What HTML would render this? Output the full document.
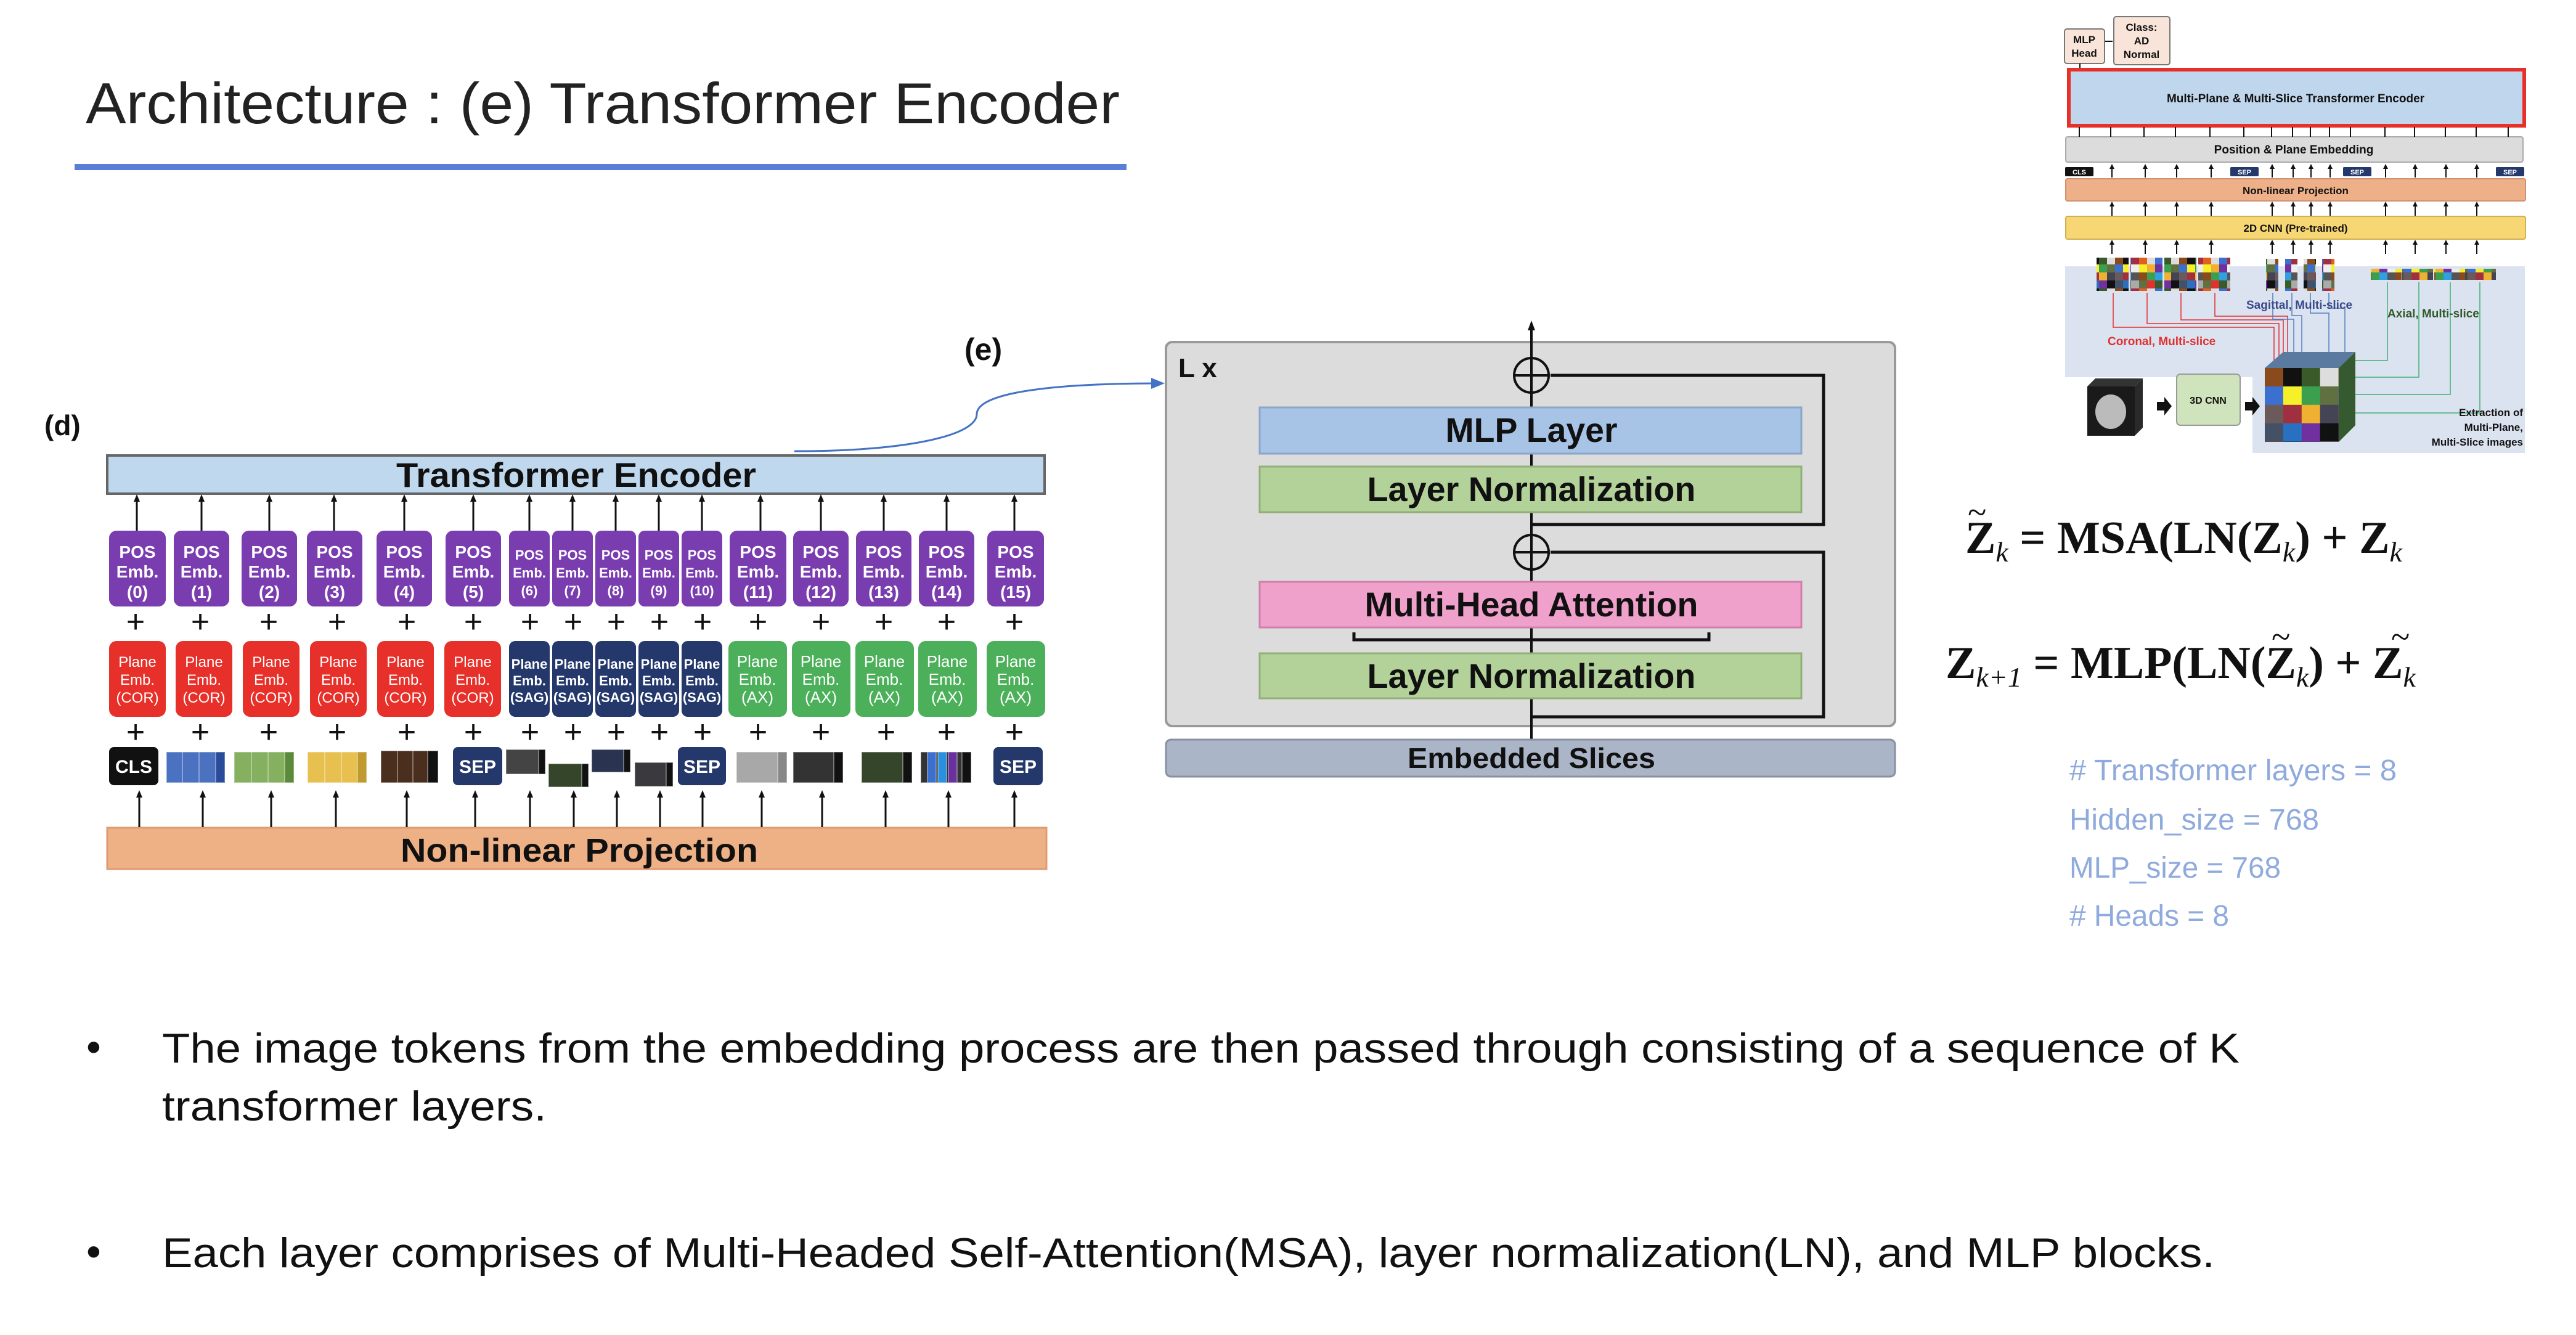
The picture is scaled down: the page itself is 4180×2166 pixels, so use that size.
<!DOCTYPE html>
<html><head><meta charset="utf-8"><style>html,body{margin:0;padding:0;background:#fff;}svg{display:block}</style></head>
<body>
<svg width="4180" height="2166" viewBox="0 0 4180 2166" xmlns="http://www.w3.org/2000/svg" font-family="Liberation Sans, sans-serif">
<defs>
<marker id="ah" markerWidth="16" markerHeight="16" refX="8" refY="8" orient="auto" markerUnits="userSpaceOnUse"><path d="M0,2 L16,8 L0,14 z" fill="#111"/></marker>
<marker id="ahs" markerWidth="12" markerHeight="12" refX="6" refY="6" orient="auto" markerUnits="userSpaceOnUse"><path d="M0,1 L12,6 L0,11 z" fill="#111"/></marker>
<marker id="aht" markerWidth="8" markerHeight="8" refX="4" refY="4" orient="auto" markerUnits="userSpaceOnUse"><path d="M0,0 L8,4 L0,8 z" fill="#111"/></marker>
<marker id="ahb" markerWidth="22" markerHeight="22" refX="14" refY="11" orient="auto" markerUnits="userSpaceOnUse"><path d="M0,2 L22,11 L0,20 z" fill="#4472c4"/></marker>
<pattern id="g1" width="52" height="52" patternUnits="userSpaceOnUse">
<rect width="13" height="13" fill="#8b4a1c"/><rect x="13" width="13" height="13" fill="#111"/><rect x="26" width="13" height="13" fill="#3a5a2a"/><rect x="39" width="13" height="13" fill="#ddd"/>
<rect y="13" width="13" height="13" fill="#3b6fd0"/><rect x="13" y="13" width="13" height="13" fill="#f5f02a"/><rect x="26" y="13" width="13" height="13" fill="#3aa050"/><rect x="39" y="13" width="13" height="13" fill="#607040"/>
<rect y="26" width="13" height="13" fill="#6b5a5a"/><rect x="13" y="26" width="13" height="13" fill="#a03040"/><rect x="26" y="26" width="13" height="13" fill="#f0b030"/><rect x="39" y="26" width="13" height="13" fill="#445"/>
<rect y="39" width="13" height="13" fill="#445066"/><rect x="13" y="39" width="13" height="13" fill="#2a70c0"/><rect x="26" y="39" width="13" height="13" fill="#7030a0"/><rect x="39" y="39" width="13" height="13" fill="#111"/>
</pattern>
<pattern id="g2" width="52" height="52" patternUnits="userSpaceOnUse">
<rect width="13" height="13" fill="#ddd"/><rect x="13" width="13" height="13" fill="#3b6fd0"/><rect x="26" width="13" height="13" fill="#a03040"/><rect x="39" width="13" height="13" fill="#e06020"/>
<rect y="13" width="13" height="13" fill="#f0b030"/><rect x="13" y="13" width="13" height="13" fill="#7030a0"/><rect x="26" y="13" width="13" height="13" fill="#eee"/><rect x="39" y="13" width="13" height="13" fill="#f5f02a"/>
<rect y="26" width="13" height="13" fill="#3aa050"/><rect x="13" y="26" width="13" height="13" fill="#30a0e0"/><rect x="26" y="26" width="13" height="13" fill="#555"/><rect x="39" y="26" width="13" height="13" fill="#8b4a1c"/>
<rect y="39" width="13" height="13" fill="#e03030"/><rect x="13" y="39" width="13" height="13" fill="#3a5a2a"/><rect x="26" y="39" width="13" height="13" fill="#aaa"/><rect x="39" y="39" width="13" height="13" fill="#607040"/>
</pattern>
<pattern id="g3" href="#g1" patternTransform="translate(3675,597) scale(2.3)"/>
</defs>

<text x="139" y="200" font-size="94" fill="#222" textLength="1678" lengthAdjust="spacingAndGlyphs">Architecture : (e) Transformer Encoder</text>
<rect x="121" y="266" width="1707" height="10" fill="#5b7fd6"/>

<text x="72" y="706" font-size="46" font-weight="bold" fill="#111">(d)</text>
<text x="1565" y="584" font-size="50" font-weight="bold" fill="#111">(e)</text>
<path d="M1289,732 C1480,732 1585,705 1585,672 C1585,635 1720,622 1882,622" fill="none" stroke="#4472c4" stroke-width="3" marker-end="url(#ahb)"/>

<rect x="174" y="739" width="1521" height="62" fill="#c0d8ee" stroke="#666" stroke-width="4"/>
<text x="935" y="790" font-size="56" font-weight="bold" text-anchor="middle" fill="#111" textLength="584" lengthAdjust="spacingAndGlyphs">Transformer Encoder</text>

<rect x="174" y="1343" width="1524" height="67" fill="#eeb186" stroke="#e09a70" stroke-width="3"/>
<text x="940" y="1398" font-size="54" font-weight="bold" text-anchor="middle" fill="#111" textLength="580" lengthAdjust="spacingAndGlyphs">Non-linear Projection</text>

<g font-weight="bold" fill="#fff" text-anchor="middle">
<rect x="177" y="861" width="92" height="123" rx="12" fill="#7a3db0"/>
<rect x="282" y="861" width="90" height="123" rx="12" fill="#7a3db0"/>
<rect x="392" y="861" width="90" height="123" rx="12" fill="#7a3db0"/>
<rect x="498" y="861" width="90" height="123" rx="12" fill="#7a3db0"/>
<rect x="611" y="861" width="90" height="123" rx="12" fill="#7a3db0"/>
<rect x="723" y="861" width="90" height="123" rx="12" fill="#7a3db0"/>
<rect x="1184" y="861" width="92" height="123" rx="12" fill="#7a3db0"/>
<rect x="1287" y="861" width="90" height="123" rx="12" fill="#7a3db0"/>
<rect x="1389" y="861" width="90" height="123" rx="12" fill="#7a3db0"/>
<rect x="1491" y="861" width="90" height="123" rx="12" fill="#7a3db0"/>
<rect x="1602" y="861" width="92" height="123" rx="12" fill="#7a3db0"/>
<rect x="826" y="861" width="66" height="123" rx="10" fill="#7a3db0"/>
<rect x="896" y="861" width="66" height="123" rx="10" fill="#7a3db0"/>
<rect x="966" y="861" width="66" height="123" rx="10" fill="#7a3db0"/>
<rect x="1036" y="861" width="66" height="123" rx="10" fill="#7a3db0"/>
<rect x="1106" y="861" width="66" height="123" rx="10" fill="#7a3db0"/>

<rect x="177" y="1040" width="92" height="123" rx="12" fill="#e8302a"/>
<rect x="285" y="1040" width="92" height="123" rx="12" fill="#e8302a"/>
<rect x="394" y="1040" width="92" height="123" rx="12" fill="#e8302a"/>
<rect x="503" y="1040" width="92" height="123" rx="12" fill="#e8302a"/>
<rect x="612" y="1040" width="92" height="123" rx="12" fill="#e8302a"/>
<rect x="721" y="1040" width="92" height="123" rx="12" fill="#e8302a"/>
<rect x="826" y="1040" width="66" height="123" rx="10" fill="#24386b"/>
<rect x="896" y="1040" width="66" height="123" rx="10" fill="#24386b"/>
<rect x="966" y="1040" width="66" height="123" rx="10" fill="#24386b"/>
<rect x="1036" y="1040" width="66" height="123" rx="10" fill="#24386b"/>
<rect x="1106" y="1040" width="66" height="123" rx="10" fill="#24386b"/>
<rect x="1182" y="1040" width="95" height="123" rx="12" fill="#4cb05a"/>
<rect x="1285" y="1040" width="95" height="123" rx="12" fill="#4cb05a"/>
<rect x="1388" y="1040" width="95" height="123" rx="12" fill="#4cb05a"/>
<rect x="1490" y="1040" width="95" height="123" rx="12" fill="#4cb05a"/>
<rect x="1601" y="1040" width="95" height="123" rx="12" fill="#4cb05a"/>

<g font-size="28">
<text x="223" y="905">POS</text><text x="223" y="937">Emb.</text><text x="223" y="970">(0)</text>
<text x="327" y="905">POS</text><text x="327" y="937">Emb.</text><text x="327" y="970">(1)</text>
<text x="437" y="905">POS</text><text x="437" y="937">Emb.</text><text x="437" y="970">(2)</text>
<text x="543" y="905">POS</text><text x="543" y="937">Emb.</text><text x="543" y="970">(3)</text>
<text x="656" y="905">POS</text><text x="656" y="937">Emb.</text><text x="656" y="970">(4)</text>
<text x="768" y="905">POS</text><text x="768" y="937">Emb.</text><text x="768" y="970">(5)</text>
<text x="1230" y="905">POS</text><text x="1230" y="937">Emb.</text><text x="1230" y="970">(11)</text>
<text x="1332" y="905">POS</text><text x="1332" y="937">Emb.</text><text x="1332" y="970">(12)</text>
<text x="1434" y="905">POS</text><text x="1434" y="937">Emb.</text><text x="1434" y="970">(13)</text>
<text x="1536" y="905">POS</text><text x="1536" y="937">Emb.</text><text x="1536" y="970">(14)</text>
<text x="1648" y="905">POS</text><text x="1648" y="937">Emb.</text><text x="1648" y="970">(15)</text>
</g>
<g font-size="22">
<text x="859" y="908">POS</text><text x="859" y="937">Emb.</text><text x="859" y="966">(6)</text>
<text x="929" y="908">POS</text><text x="929" y="937">Emb.</text><text x="929" y="966">(7)</text>
<text x="999" y="908">POS</text><text x="999" y="937">Emb.</text><text x="999" y="966">(8)</text>
<text x="1069" y="908">POS</text><text x="1069" y="937">Emb.</text><text x="1069" y="966">(9)</text>
<text x="1139" y="908">POS</text><text x="1139" y="937">Emb.</text><text x="1139" y="966">(10)</text>
<text x="859" y="1085">Plane</text><text x="859" y="1112">Emb.</text><text x="859" y="1139">(SAG)</text>
<text x="929" y="1085">Plane</text><text x="929" y="1112">Emb.</text><text x="929" y="1139">(SAG)</text>
<text x="999" y="1085">Plane</text><text x="999" y="1112">Emb.</text><text x="999" y="1139">(SAG)</text>
<text x="1069" y="1085">Plane</text><text x="1069" y="1112">Emb.</text><text x="1069" y="1139">(SAG)</text>
<text x="1139" y="1085">Plane</text><text x="1139" y="1112">Emb.</text><text x="1139" y="1139">(SAG)</text>
</g>
<g font-size="24" font-weight="normal">
<text x="223" y="1082">Plane</text><text x="223" y="1111">Emb.</text><text x="223" y="1140">(COR)</text>
<text x="331" y="1082">Plane</text><text x="331" y="1111">Emb.</text><text x="331" y="1140">(COR)</text>
<text x="440" y="1082">Plane</text><text x="440" y="1111">Emb.</text><text x="440" y="1140">(COR)</text>
<text x="549" y="1082">Plane</text><text x="549" y="1111">Emb.</text><text x="549" y="1140">(COR)</text>
<text x="658" y="1082">Plane</text><text x="658" y="1111">Emb.</text><text x="658" y="1140">(COR)</text>
<text x="767" y="1082">Plane</text><text x="767" y="1111">Emb.</text><text x="767" y="1140">(COR)</text>
</g>
<g font-size="26" font-weight="normal">
<text x="1229" y="1082">Plane</text><text x="1229" y="1111">Emb.</text><text x="1229" y="1140">(AX)</text>
<text x="1332" y="1082">Plane</text><text x="1332" y="1111">Emb.</text><text x="1332" y="1140">(AX)</text>
<text x="1435" y="1082">Plane</text><text x="1435" y="1111">Emb.</text><text x="1435" y="1140">(AX)</text>
<text x="1537" y="1082">Plane</text><text x="1537" y="1111">Emb.</text><text x="1537" y="1140">(AX)</text>
<text x="1648" y="1082">Plane</text><text x="1648" y="1111">Emb.</text><text x="1648" y="1140">(AX)</text>
</g>
</g>

<g font-size="52" fill="#111" text-anchor="middle">
<text x="220" y="1026">+</text><text x="325" y="1026">+</text><text x="436" y="1026">+</text><text x="547" y="1026">+</text><text x="660" y="1026">+</text><text x="768" y="1026">+</text><text x="860" y="1026">+</text><text x="930" y="1026">+</text><text x="1000" y="1026">+</text><text x="1070" y="1026">+</text><text x="1140" y="1026">+</text><text x="1230" y="1026">+</text><text x="1332" y="1026">+</text><text x="1434" y="1026">+</text><text x="1536" y="1026">+</text><text x="1646" y="1026">+</text>
<text x="220" y="1205">+</text><text x="325" y="1205">+</text><text x="436" y="1205">+</text><text x="547" y="1205">+</text><text x="660" y="1205">+</text><text x="768" y="1205">+</text><text x="860" y="1205">+</text><text x="930" y="1205">+</text><text x="1000" y="1205">+</text><text x="1070" y="1205">+</text><text x="1140" y="1205">+</text><text x="1230" y="1205">+</text><text x="1332" y="1205">+</text><text x="1438" y="1205">+</text><text x="1536" y="1205">+</text><text x="1646" y="1205">+</text>
</g>

<g stroke="#111" stroke-width="3" marker-end="url(#ahs)">
<line x1="222" y1="861" x2="222" y2="808"/><line x1="327" y1="861" x2="327" y2="808"/><line x1="437" y1="861" x2="437" y2="808"/><line x1="542" y1="861" x2="542" y2="808"/><line x1="656" y1="861" x2="656" y2="808"/><line x1="768" y1="861" x2="768" y2="808"/><line x1="859" y1="861" x2="859" y2="808"/><line x1="929" y1="861" x2="929" y2="808"/><line x1="999" y1="861" x2="999" y2="808"/><line x1="1069" y1="861" x2="1069" y2="808"/><line x1="1139" y1="861" x2="1139" y2="808"/><line x1="1234" y1="861" x2="1234" y2="808"/><line x1="1332" y1="861" x2="1332" y2="808"/><line x1="1434" y1="861" x2="1434" y2="808"/><line x1="1536" y1="861" x2="1536" y2="808"/><line x1="1646" y1="861" x2="1646" y2="808"/>
<line x1="226" y1="1342" x2="226" y2="1288"/><line x1="329" y1="1342" x2="329" y2="1288"/><line x1="440" y1="1342" x2="440" y2="1288"/><line x1="545" y1="1342" x2="545" y2="1288"/><line x1="660" y1="1342" x2="660" y2="1288"/><line x1="771" y1="1342" x2="771" y2="1288"/><line x1="860" y1="1342" x2="860" y2="1288"/><line x1="931" y1="1342" x2="931" y2="1288"/><line x1="1001" y1="1342" x2="1001" y2="1288"/><line x1="1071" y1="1342" x2="1071" y2="1288"/><line x1="1140" y1="1342" x2="1140" y2="1288"/><line x1="1236" y1="1342" x2="1236" y2="1288"/><line x1="1334" y1="1342" x2="1334" y2="1288"/><line x1="1437" y1="1342" x2="1437" y2="1288"/><line x1="1539" y1="1342" x2="1539" y2="1288"/><line x1="1646" y1="1342" x2="1646" y2="1288"/>
</g>

<g font-weight="bold" font-size="30" fill="#fff" text-anchor="middle">
<rect x="177" y="1212" width="80" height="62" rx="8" fill="#111"/><text x="217" y="1254">CLS</text>
<rect x="735" y="1212" width="80" height="62" rx="8" fill="#24386b"/><text x="775" y="1254">SEP</text>
<rect x="1100" y="1212" width="78" height="62" rx="8" fill="#24386b"/><text x="1139" y="1254">SEP</text>
<rect x="1612" y="1212" width="80" height="62" rx="8" fill="#24386b"/><text x="1652" y="1254">SEP</text>
</g>
<g stroke="rgba(255,255,255,0.35)" stroke-width="2">
<rect x="270" y="1220" width="95" height="50" fill="#4a72c0"/><rect x="350" y="1220" width="15" height="50" fill="#2a4a9a"/><line x1="296" y1="1220" x2="296" y2="1270"/><line x1="323" y1="1220" x2="323" y2="1270"/>
<rect x="380" y="1220" width="97" height="50" fill="#84b060"/><rect x="462" y="1220" width="15" height="50" fill="#5a8a3a"/><line x1="408" y1="1220" x2="408" y2="1270"/><line x1="435" y1="1220" x2="435" y2="1270"/>
<rect x="499" y="1220" width="96" height="50" fill="#e8c050"/><rect x="580" y="1220" width="15" height="50" fill="#c09a30"/><line x1="527" y1="1220" x2="527" y2="1270"/><line x1="554" y1="1220" x2="554" y2="1270"/>
<rect x="618" y="1218" width="93" height="52" fill="#4a2e1e"/><rect x="694" y="1218" width="17" height="52" fill="#111"/><line x1="645" y1="1218" x2="645" y2="1270"/><line x1="670" y1="1218" x2="670" y2="1270"/>
<rect x="821" y="1216" width="64" height="40" fill="#444"/><rect x="874" y="1216" width="11" height="40" fill="#111"/>
<rect x="890" y="1239" width="65" height="38" fill="#34452a"/><rect x="944" y="1239" width="11" height="38" fill="#111"/>
<rect x="960" y="1216" width="63" height="37" fill="#2a3450"/><rect x="1012" y="1216" width="11" height="37" fill="#111"/>
<rect x="1030" y="1237" width="62" height="39" fill="#3a3a3e"/><rect x="1081" y="1237" width="11" height="39" fill="#111"/>
<rect x="1195" y="1220" width="82" height="50" fill="#a8a8a8"/><rect x="1262" y="1220" width="15" height="50" fill="#888"/>
<rect x="1287" y="1220" width="81" height="50" fill="#333"/><rect x="1353" y="1220" width="15" height="50" fill="#111"/>
<rect x="1398" y="1220" width="82" height="50" fill="#34452a"/><rect x="1465" y="1220" width="15" height="50" fill="#111"/>
<rect x="1494" y="1220" width="82" height="50" fill="#333"/><rect x="1505" y="1220" width="14" height="50" fill="#3a70d0"/><rect x="1522" y="1220" width="14" height="50" fill="#2a90e0"/><rect x="1539" y="1220" width="14" height="50" fill="#6a30a0"/><rect x="1561" y="1220" width="15" height="50" fill="#111"/>
</g>

<rect x="1892" y="555" width="1183" height="623" rx="10" fill="#dcdcdc" stroke="#999" stroke-width="4"/>
<text x="1912" y="612" font-size="44" font-weight="bold" fill="#111">L x</text>
<line x1="2485" y1="1200" x2="2485" y2="528" stroke="#111" stroke-width="4" marker-end="url(#ah)"/>
<rect x="1892" y="1200" width="1183" height="60" rx="8" fill="#abb5c8" stroke="#8890a0" stroke-width="3"/>
<text x="2485" y="1246" font-size="46" font-weight="bold" text-anchor="middle" fill="#111" textLength="402" lengthAdjust="spacingAndGlyphs">Embedded Slices</text>
<rect x="2044" y="661" width="879" height="75" fill="#a7c4e6" stroke="#8aa6c8" stroke-width="3"/>
<text x="2485" y="717" font-size="56" font-weight="bold" text-anchor="middle" fill="#111" textLength="279" lengthAdjust="spacingAndGlyphs">MLP Layer</text>
<rect x="2044" y="757" width="879" height="74" fill="#b3d29a" stroke="#90b078" stroke-width="3"/>
<text x="2485" y="813" font-size="56" font-weight="bold" text-anchor="middle" fill="#111" textLength="533" lengthAdjust="spacingAndGlyphs">Layer Normalization</text>
<rect x="2044" y="944" width="879" height="74" fill="#f0a1cb" stroke="#d080a8" stroke-width="3"/>
<text x="2485" y="1000" font-size="56" font-weight="bold" text-anchor="middle" fill="#111" textLength="541" lengthAdjust="spacingAndGlyphs">Multi-Head Attention</text>
<rect x="2044" y="1060" width="879" height="73" fill="#b3d29a" stroke="#90b078" stroke-width="3"/>
<text x="2485" y="1116" font-size="56" font-weight="bold" text-anchor="middle" fill="#111" textLength="533" lengthAdjust="spacingAndGlyphs">Layer Normalization</text>
<circle cx="2485" cy="609" r="28" fill="none" stroke="#111" stroke-width="4"/><line x1="2457" y1="609" x2="2513" y2="609" stroke="#111" stroke-width="4"/>
<circle cx="2485" cy="896" r="28" fill="none" stroke="#111" stroke-width="4"/><line x1="2457" y1="896" x2="2513" y2="896" stroke="#111" stroke-width="4"/>
<g fill="none" stroke="#111" stroke-width="5">
<polyline points="2485,851 2959,851 2959,609 2516,609"/>
<polyline points="2485,1163 2959,1163 2959,896 2516,896"/>
<polyline points="2197,1026 2197,1038 2773,1038 2773,1026"/>
</g>

<g font-family="Liberation Serif, serif" font-weight="bold" fill="#111" font-size="74">
<text x="3189" y="897">Z<tspan font-size="46" dy="14" font-style="italic" font-weight="normal">k</tspan><tspan dy="-14"> = MSA(LN(Z</tspan><tspan font-size="46" dy="14" font-style="italic" font-weight="normal">k</tspan><tspan dy="-14">) + Z</tspan><tspan font-size="46" dy="14" font-style="italic" font-weight="normal">k</tspan></text>
<text x="3193" y="850" font-size="56" font-weight="normal">~</text>
<text x="3157" y="1100">Z<tspan font-size="46" dy="14" font-style="italic" font-weight="normal">k+1</tspan><tspan dy="-14"> = MLP(LN(Z</tspan><tspan font-size="46" dy="14" font-style="italic" font-weight="normal">k</tspan><tspan dy="-14">) + Z</tspan><tspan font-size="46" dy="14" font-style="italic" font-weight="normal">k</tspan></text>
<text x="3686" y="1052" font-size="56" font-weight="normal">~</text>
<text x="3880" y="1052" font-size="56" font-weight="normal">~</text>
</g>

<g font-size="48" fill="#8faadc">
<text x="3358" y="1266" textLength="531" lengthAdjust="spacingAndGlyphs"># Transformer layers = 8</text>
<text x="3358" y="1346" textLength="405" lengthAdjust="spacingAndGlyphs">Hidden_size = 768</text>
<text x="3358" y="1424" textLength="343" lengthAdjust="spacingAndGlyphs">MLP_size = 768</text>
<text x="3358" y="1502" textLength="259" lengthAdjust="spacingAndGlyphs"># Heads = 8</text>
</g>

<g font-size="68" fill="#111">
<text x="140" y="1722">•</text>
<text x="263" y="1724" textLength="3371" lengthAdjust="spacingAndGlyphs">The image tokens from the embedding process are then passed through consisting of a sequence of K</text>
<text x="263" y="1818" textLength="624" lengthAdjust="spacingAndGlyphs">transformer layers.</text>
<text x="140" y="2054">•</text>
<text x="263" y="2056" textLength="3331" lengthAdjust="spacingAndGlyphs">Each layer comprises of Multi-Headed Self-Attention(MSA), layer normalization(LN), and MLP blocks.</text>
</g>

<g font-weight="bold" fill="#111">
<rect x="3351" y="432" width="746" height="180" fill="#dce3f0"/>
<rect x="3655" y="560" width="442" height="175" fill="#dce3f0"/>
<rect x="3350" y="47" width="65" height="56" rx="4" fill="#f8e4d8" stroke="#777" stroke-width="2"/>
<text x="3382" y="70" font-size="17" text-anchor="middle">MLP</text><text x="3382" y="92" font-size="17" text-anchor="middle">Head</text>
<line x1="3416" y1="67" x2="3428" y2="67" stroke="#111" stroke-width="2"/>
<rect x="3430" y="27" width="91" height="78" rx="4" fill="#f8e4d8" stroke="#777" stroke-width="2"/>
<text x="3475" y="50" font-size="17" text-anchor="middle">Class:</text><text x="3475" y="72" font-size="17" text-anchor="middle">AD</text><text x="3475" y="94" font-size="17" text-anchor="middle">Normal</text>
<line x1="3375" y1="103" x2="3375" y2="112" stroke="#111" stroke-width="2"/>
<rect x="3357" y="113" width="739" height="91" fill="#c0d6ec" stroke="#e8302a" stroke-width="6"/>
<text x="3725" y="166" font-size="19" text-anchor="middle">Multi-Plane &amp; Multi-Slice Transformer Encoder</text>
<rect x="3352" y="222" width="742" height="41" rx="3" fill="#dcdcdc" stroke="#aaa" stroke-width="2"/>
<text x="3722" y="249" font-size="19" text-anchor="middle">Position &amp; Plane Embedding</text>
<rect x="3352" y="290" width="746" height="36" rx="3" fill="#eeb088" stroke="#d09070" stroke-width="2"/>
<text x="3725" y="315" font-size="17" text-anchor="middle">Non-linear Projection</text>
<rect x="3352" y="351" width="746" height="37" rx="3" fill="#f7d774" stroke="#d0b050" stroke-width="2"/>
<text x="3725" y="376" font-size="17" text-anchor="middle">2D CNN (Pre-trained)</text>
<g font-size="11" fill="#fff" text-anchor="middle">
<rect x="3351" y="271" width="46" height="15" rx="2" fill="#111"/><text x="3374" y="283">CLS</text>
<rect x="3619" y="271" width="46" height="15" rx="2" fill="#24386b"/><text x="3642" y="283">SEP</text>
<rect x="3802" y="271" width="46" height="15" rx="2" fill="#24386b"/><text x="3825" y="283">SEP</text>
<rect x="4050" y="271" width="46" height="15" rx="2" fill="#24386b"/><text x="4073" y="283">SEP</text>
</g>
<g stroke="#111" stroke-width="2">
<line x1="3374" y1="206" x2="3374" y2="222"/><line x1="3425" y1="206" x2="3425" y2="222"/><line x1="3479" y1="206" x2="3479" y2="222"/><line x1="3530" y1="206" x2="3530" y2="222"/><line x1="3586" y1="206" x2="3586" y2="222"/><line x1="3641" y1="206" x2="3641" y2="222"/><line x1="3686" y1="206" x2="3686" y2="222"/><line x1="3720" y1="206" x2="3720" y2="222"/><line x1="3749" y1="206" x2="3749" y2="222"/><line x1="3780" y1="206" x2="3780" y2="222"/><line x1="3814" y1="206" x2="3814" y2="222"/><line x1="3870" y1="206" x2="3870" y2="222"/><line x1="3918" y1="206" x2="3918" y2="222"/><line x1="3968" y1="206" x2="3968" y2="222"/><line x1="4018" y1="206" x2="4018" y2="222"/><line x1="4070" y1="206" x2="4070" y2="222"/>
</g>
<g stroke="#111" stroke-width="2" marker-end="url(#aht)">
<line x1="3427" y1="288" x2="3427" y2="270"/><line x1="3481" y1="288" x2="3481" y2="270"/><line x1="3532" y1="288" x2="3532" y2="270"/><line x1="3588" y1="288" x2="3588" y2="270"/><line x1="3687" y1="288" x2="3687" y2="270"/><line x1="3721" y1="288" x2="3721" y2="270"/><line x1="3750" y1="288" x2="3750" y2="270"/><line x1="3781" y1="288" x2="3781" y2="270"/><line x1="3871" y1="288" x2="3871" y2="270"/><line x1="3919" y1="288" x2="3919" y2="270"/><line x1="3969" y1="288" x2="3969" y2="270"/><line x1="4019" y1="288" x2="4019" y2="270"/>
<line x1="3427" y1="350" x2="3427" y2="331"/><line x1="3481" y1="350" x2="3481" y2="331"/><line x1="3532" y1="350" x2="3532" y2="331"/><line x1="3588" y1="350" x2="3588" y2="331"/><line x1="3687" y1="350" x2="3687" y2="331"/><line x1="3721" y1="350" x2="3721" y2="331"/><line x1="3750" y1="350" x2="3750" y2="331"/><line x1="3781" y1="350" x2="3781" y2="331"/><line x1="3871" y1="350" x2="3871" y2="331"/><line x1="3919" y1="350" x2="3919" y2="331"/><line x1="3969" y1="350" x2="3969" y2="331"/><line x1="4019" y1="350" x2="4019" y2="331"/>
<line x1="3427" y1="412" x2="3427" y2="393"/><line x1="3481" y1="412" x2="3481" y2="393"/><line x1="3532" y1="412" x2="3532" y2="393"/><line x1="3588" y1="412" x2="3588" y2="393"/><line x1="3687" y1="412" x2="3687" y2="393"/><line x1="3721" y1="412" x2="3721" y2="393"/><line x1="3750" y1="412" x2="3750" y2="393"/><line x1="3781" y1="412" x2="3781" y2="393"/><line x1="3871" y1="412" x2="3871" y2="393"/><line x1="3919" y1="412" x2="3919" y2="393"/><line x1="3969" y1="412" x2="3969" y2="393"/><line x1="4019" y1="412" x2="4019" y2="393"/>
</g>
<rect x="3402" y="418" width="52" height="54" fill="url(#g1)"/><rect x="3457" y="418" width="52" height="54" fill="url(#g2)"/><rect x="3512" y="418" width="52" height="54" fill="url(#g1)"/><rect x="3567" y="418" width="52" height="54" fill="url(#g2)"/>
<rect x="3677" y="420" width="20" height="52" fill="url(#g1)"/><rect x="3708" y="420" width="20" height="52" fill="url(#g2)"/><rect x="3738" y="420" width="20" height="52" fill="url(#g1)"/><rect x="3768" y="420" width="20" height="52" fill="url(#g2)"/>
<rect x="3847" y="436" width="50" height="18" fill="url(#g2)"/><rect x="3898" y="436" width="50" height="18" fill="url(#g1)"/><rect x="3950" y="436" width="50" height="18" fill="url(#g2)"/><rect x="4000" y="436" width="50" height="18" fill="url(#g1)"/>
<g fill="none" stroke-width="1.5">
<polyline points="3429,475 3429,531 3690,531 3690,630" stroke="#e03030"/><polyline points="3484,475 3484,525 3698,525 3698,630" stroke="#e03030"/><polyline points="3539,475 3539,519 3705,519 3705,630" stroke="#e03030"/><polyline points="3594,475 3594,513 3712,513 3712,630" stroke="#e03030"/>
<polyline points="3688,475 3688,518 3722,518 3722,580" stroke="#5080c0"/><polyline points="3719,475 3719,512 3735,512 3735,580" stroke="#5080c0"/><polyline points="3749,475 3749,508 3779,508 3779,580" stroke="#5080c0"/><polyline points="3779,475 3779,500 3805,500 3805,580" stroke="#5080c0"/>
<polyline points="3874,458 3874,585 3822,585" stroke="#40b070"/><polyline points="3925,458 3925,612 3822,612" stroke="#40b070"/><polyline points="3976,458 3976,640 3822,640" stroke="#40b070"/><polyline points="4024,458 4024,670 3822,670" stroke="#40b070"/>
</g>
<rect x="3675" y="597" width="120" height="120" fill="url(#g3)"/>
<polygon points="3675,597 3705,571 3822,571 3795,597" fill="#5a7aa0"/><polygon points="3795,597 3822,571 3822,690 3795,717" fill="#355a30"/>
<polygon points="3387,627 3400,614 3477,614 3464,627" fill="#333"/><rect x="3387" y="627" width="77" height="80" fill="#1a1a1a"/><polygon points="3464,627 3477,614 3477,694 3464,707" fill="#2a2a2a"/>
<ellipse cx="3425" cy="668" rx="25" ry="28" fill="#bbb"/>
<path d="M3500,652 h12 v-8 l12,15 l-12,15 v-8 h-12z" fill="#111"/>
<rect x="3532" y="607" width="103" height="83" rx="6" fill="#cfe3bc" stroke="#999" stroke-width="2"/>
<text x="3583" y="655" font-size="16" text-anchor="middle">3D CNN</text>
<path d="M3643,652 h12 v-8 l12,15 l-12,15 v-8 h-12z" fill="#111"/>
<text x="3420" y="560" font-size="19" fill="#e03030">Coronal, Multi-slice</text>
<text x="3645" y="501" font-size="19" fill="#3a4a8a">Sagittal, Multi-slice</text>
<text x="3874" y="515" font-size="19" fill="#2f5a2a">Axial, Multi-slice</text>
<g font-size="17" text-anchor="end">
<text x="4094" y="675">Extraction of</text><text x="4094" y="699">Multi-Plane,</text><text x="4094" y="723">Multi-Slice images</text>
</g>
</g>
</svg>
</body></html>
